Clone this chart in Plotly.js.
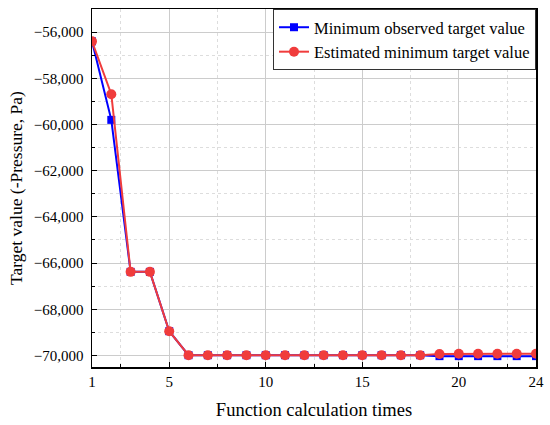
<!DOCTYPE html>
<html>
<head>
<meta charset="utf-8">
<script src="https://cdn.plot.ly/plotly-3.0.1.min.js"></script>
<style>html,body{margin:0;padding:0;background:#fff;}#chart{width:550px;height:425px;}</style>
</head>
<body>
<div id="chart"></div>
<script>
const calcTimes = [1,2,3,4,5,6,7,8,9,10,11,12,13,14,15,16,17,18,19,20,21,22,23,24];
const observedMin = [-56400,-59800,-66380,-66380,-68950,-69990,-69990,-69990,-69990,-69990,-69990,-69990,-69990,-69990,-69990,-69990,-69990,-69990,-70030,-70030,-70030,-70030,-70030,-70030];
const estimatedMin = [-56400,-58690,-66380,-66380,-68950,-69990,-69990,-69990,-69990,-69990,-69990,-69990,-69990,-69990,-69990,-69990,-69990,-69990,-69940,-69930,-69930,-69930,-69930,-69930];
const xTickVals = [1,5,10,15,20,24];
const xMinorVals = [2.5,7.5,12.5,17.5,22.5];
const seriesNames = ['Minimum observed target value','Estimated minimum target value'];

const font = 'Liberation Serif';
const traces = [
  {x: calcTimes, y: observedMin, name: seriesNames[0], mode: 'lines+markers',
   line: {color: '#0000ff', width: 2}, marker: {symbol: 'square', size: 8, color: '#0000ff'}},
  {x: calcTimes, y: estimatedMin, name: seriesNames[1], mode: 'lines+markers',
   line: {color: '#f03c3c', width: 2}, marker: {symbol: 'circle', size: 10, color: '#f03c3c'}}
];
const layout = {
  width: 550, height: 425,
  margin: {l: 92, r: 14, t: 9, b: 58},
  paper_bgcolor: '#fff', plot_bgcolor: '#fff',
  font: {family: font, color: '#000', size: 15},
  showlegend: true,
  legend: {x: 1, xanchor: 'right', y: 1, yanchor: 'top', bgcolor: '#fff',
           bordercolor: '#333', borderwidth: 1, font: {family: font, size: 16.5},
           tracegroupgap: 0},
  xaxis: {
    range: [1, 24], tickmode: 'array', tickvals: xTickVals, ticktext: xTickVals.map(String),
    ticks: 'inside', ticklen: 5, tickcolor: '#000', showline: true, linecolor: '#000', linewidth: 1.5,
    mirror: true, zeroline: false, showgrid: true, gridcolor: '#cccccc', gridwidth: 1,
    tickfont: {family: font, size: 15, color: '#000'},
    title: {text: 'Function calculation times', font: {family: font, size: 18.5}, standoff: 14},
    minor: {tickmode: 'array', tickvals: xMinorVals, ticks: 'inside', ticklen: 3, tickcolor: '#000',
            showgrid: true, gridcolor: '#dddddd', griddash: 'dot', gridwidth: 1}
  },
  yaxis: {
    range: [-70500, -55000], tickmode: 'linear', tick0: -70000, dtick: 2000, tickformat: ',d',
    ticks: 'inside', ticklen: 5, tickcolor: '#000', showline: true, linecolor: '#000', linewidth: 1.5,
    mirror: true, zeroline: false, showgrid: true, gridcolor: '#cccccc', gridwidth: 1,
    tickfont: {family: font, size: 15, color: '#000'}, ticklabelstandoff: 4,
    title: {text: 'Target value (-Pressure, Pa)', font: {family: font, size: 17.5}, standoff: 6},
    minor: {dtick: 1000, ticks: 'inside', ticklen: 3, tickcolor: '#000',
            showgrid: true, gridcolor: '#dddddd', griddash: 'dot', gridwidth: 1}
  },
  separators: '.,'
};
Plotly.newPlot('chart', traces, layout, {displayModeBar: false, staticPlot: true});
</script>
</body>
</html>
